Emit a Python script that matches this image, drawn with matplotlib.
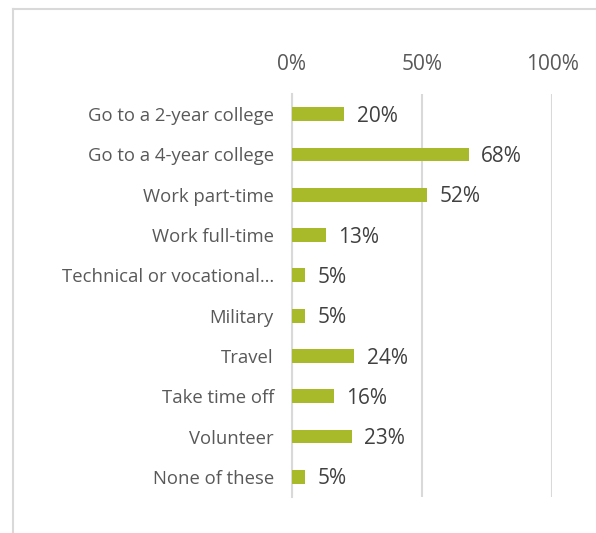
import matplotlib

matplotlib.use("Agg")
import matplotlib.pyplot as plt  # noqa: E402
from matplotlib.lines import Line2D  # noqa: E402

categories = [
    "Go to a 2-year college",
    "Go to a 4-year college",
    "Work part-time",
    "Work full-time",
    "Technical or vocational\u2026",
    "Military",
    "Travel",
    "Take time off",
    "Volunteer",
    "None of these",
]
values = [20, 68, 52, 13, 5, 5, 24, 16, 23, 5]
tick_values = [0, 50, 100]
tick_labels = ["0%", "50%", "100%"]

BAR = "#A8B92A"
GRID = "#D9D9D9"
LABEL = "#595959"

plt.rcParams["font.family"] = ["Open Sans", "DejaVu Sans"]

W, H = 596, 533
fig = plt.figure(figsize=(W / 100, H / 100), dpi=100)
ax = fig.add_axes([292 / W, 1 - 497 / H, 260 / W, 403 / H])

y = list(range(len(categories)))
ax.barh(y, values, height=0.34, color=BAR, zorder=3)
for yi, v in zip(y, values):
    ax.annotate(f"{v}%", (v, yi), xytext=(9, -1.5), textcoords="offset points",
                ha="left", va="center", fontsize=15, color="#404040")

ax.set_ylim(len(categories) - 0.5, -0.5)
ax.set_xlim(0, 100)
ax.set_yticks(y)
ax.set_yticklabels(categories, fontsize=13.3, color=LABEL)
ax.set_xticks(tick_values)
ax.set_xticklabels(tick_labels, fontsize=15, color=LABEL)
ax.xaxis.tick_top()
ax.tick_params(axis="x", length=0, pad=14)
ax.tick_params(axis="y", length=0, pad=13)
ax.grid(axis="x", color=GRID, linewidth=1.5, zorder=0)
for side in ("top", "right", "bottom"):
    ax.spines[side].set_visible(False)
ax.spines["left"].set_color(GRID)
ax.spines["left"].set_linewidth(1.5)

# outer chart border (top and left edges)
fig.add_artist(Line2D([12.5 / W, 1], [1 - 9 / H, 1 - 9 / H], transform=fig.transFigure,
                      color=GRID, linewidth=1.5))
fig.add_artist(Line2D([12.5 / W, 12.5 / W], [1 - 9 / H, 0], transform=fig.transFigure,
                      color=GRID, linewidth=1.5))

fig.savefig("out.png", dpi=100, facecolor="white")
